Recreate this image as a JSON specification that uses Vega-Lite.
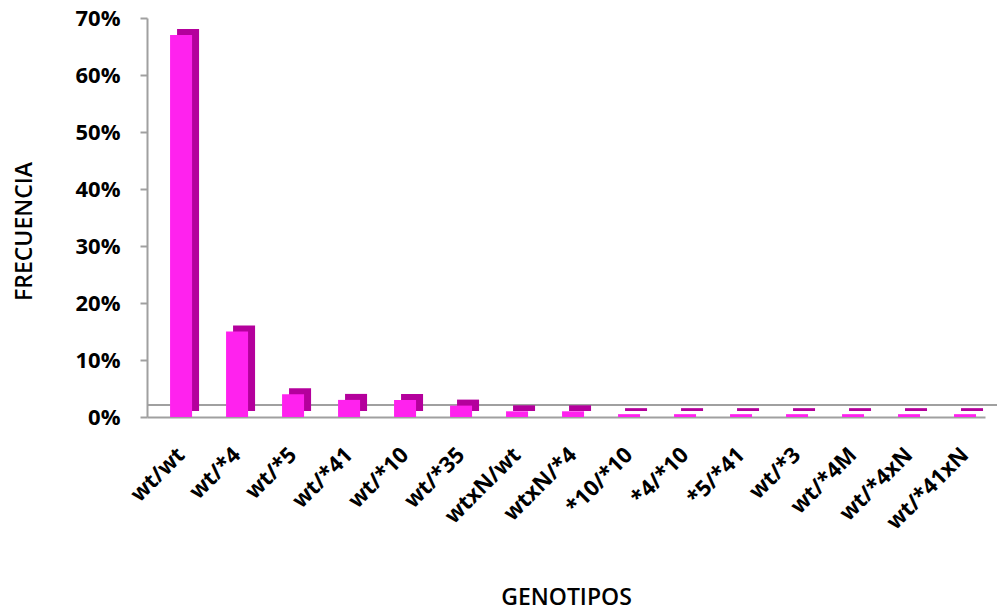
{
  "$schema": "https://vega.github.io/schema/vega-lite/v6.json",
  "width": 838,
  "height": 399,
  "autosize": "none",
  "padding": {"left": 147, "top": 18, "right": 12, "bottom": 194},
  "background": "white",
  "config": {
    "view": {"stroke": null},
    "font": "Open Sans"
  },
  "data": {
    "values": [
      {"genotipo": "wt/wt", "frecuencia": 0.67},
      {"genotipo": "wt/*4", "frecuencia": 0.15},
      {"genotipo": "wt/*5", "frecuencia": 0.04},
      {"genotipo": "wt/*41", "frecuencia": 0.03},
      {"genotipo": "wt/*10", "frecuencia": 0.03},
      {"genotipo": "wt/*35", "frecuencia": 0.02},
      {"genotipo": "wtxN/wt", "frecuencia": 0.01},
      {"genotipo": "wtxN/*4", "frecuencia": 0.01},
      {"genotipo": "*10/*10", "frecuencia": 0.005},
      {"genotipo": "*4/*10", "frecuencia": 0.005},
      {"genotipo": "*5/*41", "frecuencia": 0.005},
      {"genotipo": "wt/*3", "frecuencia": 0.005},
      {"genotipo": "wt/*4M", "frecuencia": 0.005},
      {"genotipo": "wt/*4xN", "frecuencia": 0.005},
      {"genotipo": "wt/*41xN", "frecuencia": 0.005}
    ]
  },
  "encoding": {
    "x": {
      "field": "genotipo",
      "type": "nominal",
      "sort": null,
      "scale": {"paddingInner": 0.607, "paddingOuter": 0.286, "align": 0.72},
      "axis": {
        "title": "GENOTIPOS",
        "titleFont": "Open Sans",
        "titleFontSize": 23,
        "titleFontWeight": 600,
        "titleColor": "#000000",
        "titleBaseline": "middle",
        "titleY": 180,
        "labelAngle": -45,
        "labelAlign": "right",
        "labelBaseline": "middle",
        "labelFont": "Open Sans",
        "labelFontSize": 22,
        "labelFontWeight": "bold",
        "labelColor": "#000000",
        "labelPadding": 34,
        "ticks": false,
        "domain": true,
        "domainColor": "#a0a0a0",
        "domainWidth": 2
      }
    },
    "y": {
      "field": "frecuencia",
      "type": "quantitative",
      "scale": {"domain": [0, 0.7]},
      "axis": {
        "title": "FRECUENCIA",
        "titleFont": "Open Sans",
        "titleFontSize": 23,
        "titleFontWeight": 600,
        "titleColor": "#000000",
        "titleAngle": -90,
        "titleAlign": "center",
        "titleBaseline": "middle",
        "titleX": -123,
        "titleY": 213,
        "format": ".0%",
        "values": [0, 0.1, 0.2, 0.3, 0.4, 0.5, 0.6, 0.7],
        "labelFont": "Open Sans",
        "labelFontSize": 22,
        "labelFontWeight": "bold",
        "labelColor": "#000000",
        "labelPadding": 20,
        "tickSize": 7,
        "tickColor": "#a0a0a0",
        "tickWidth": 2,
        "domainColor": "#a0a0a0",
        "domainWidth": 2,
        "grid": false
      }
    }
  },
  "layer": [
    {
      "mark": {"type": "rule", "color": "#a0a0a0", "strokeWidth": 2, "yOffset": -12, "xOffset": 12},
      "encoding": {"y": {"datum": 0}, "x": null}
    },
    {
      "mark": {"type": "bar", "color": "#b4009c", "xOffset": 7, "yOffset": -6},
      "encoding": {}
    },
    {
      "mark": {"type": "bar", "color": "#ff22ee"},
      "encoding": {}
    }
  ]
}
